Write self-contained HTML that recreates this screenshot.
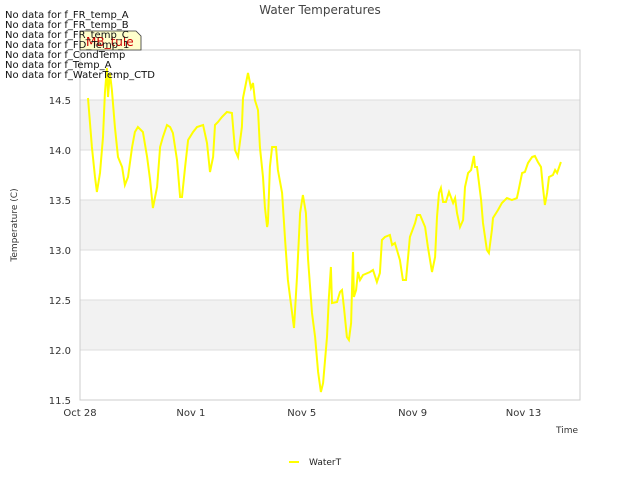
<!DOCTYPE html>
<html><head><meta charset="utf-8"><style>
body{margin:0;background:#fff;font-family:"DejaVu Sans",sans-serif}
svg text{font-family:"DejaVu Sans","Liberation Sans",sans-serif}
</style></head><body>
<svg id="c" width="640" height="480" viewBox="0 0 640 480">
<rect width="640" height="480" fill="#fff"/>
<g id="bands"></g><g id="grid"></g>
<rect x="80" y="50" width="500" height="350" fill="none" stroke="#ccc"/>
<g id="yt"></g><g id="xt"></g>
<path id="line" fill="none" stroke="#ffff00" stroke-width="2"/>
<text x="320" y="14" text-anchor="middle" font-size="12" fill="#444">Water Temperatures</text>
<text transform="translate(17,225) rotate(-90)" text-anchor="middle" font-size="9" fill="#333">Temperature (C)</text>
<text x="578" y="433" text-anchor="end" font-size="9" fill="#333">Time</text>
<g><line x1="289" y1="462" x2="299" y2="462" stroke="#ffff00" stroke-width="2"/><text x="309" y="465" font-size="9" fill="#222">WaterT</text></g>
<g><path d="M80,31 L136,31 L141,36 L141,50 L80,50 Z" fill="#ffffcc" stroke="#333" stroke-width="0.8"/><text x="86" y="46" font-size="12" fill="#cc0000">MB_tule</text></g>
<g font-size="10" fill="#111">
<text x="5" y="18">No data for f_FR_temp_A</text><text x="5" y="28">No data for f_FR_temp_B</text><text x="5" y="38">No data for f_FR_temp_C</text><text x="5" y="48">No data for f_FD_Temp_1</text><text x="5" y="58">No data for f_CondTemp</text><text x="5" y="68">No data for f_Temp_A</text><text x="5" y="78">No data for f_WaterTemp_CTD</text>
</g>
</svg>
<script>
const days=[.29,.43,.54,.61,.72,.83,.90,.97,1.01,1.08,1.15,1.26,1.37,1.52,1.62,1.73,1.88,1.98,2.09,2.27,2.42,2.53,2.63,2.78,2.89,2.99,3.14,3.25,3.35,3.50,3.61,3.68,3.79,3.90,4.08,4.22,4.44,4.58,4.69,4.80,4.87,4.98,5.12,5.30,5.48,5.59,5.70,5.84,5.88,5.99,6.06,6.17,6.24,6.31,6.42,6.49,6.60,6.67,6.75,6.78,6.85,6.93,7.07,7.14,7.29,7.40,7.50,7.65,7.72,7.83,7.94,8.04,8.15,8.23,8.37,8.48,8.59,8.69,8.77,8.91,8.98,9.05,9.09,9.27,9.38,9.45,9.52,9.63,9.70,9.78,9.85,9.88,9.96,10.03,10.10,10.21,10.46,10.57,10.71,10.82,10.89,11.00,11.18,11.26,11.36,11.54,11.65,11.76,11.90,12.09,12.16,12.27,12.45,12.55,12.70,12.81,12.88,12.95,13.02,13.10,13.20,13.31,13.46,13.53,13.60,13.71,13.82,13.89,14.00,14.11,14.21,14.25,14.32,14.47,14.54,14.68,14.75,14.86,14.90,15.08,15.22,15.40,15.58,15.76,15.80,15.95,16.05,16.16,16.31,16.41,16.52,16.63,16.70,16.77,16.85,16.92,17.06,17.14,17.21,17.35];
const temps=[14.52,14.03,13.73,13.58,13.77,14.13,14.57,14.82,14.53,14.77,14.6,14.23,13.93,13.83,13.65,13.73,14.03,14.18,14.23,14.18,13.93,13.7,13.42,13.63,14.03,14.13,14.25,14.23,14.17,13.9,13.53,13.53,13.83,14.1,14.18,14.23,14.25,14.07,13.78,13.93,14.25,14.28,14.33,14.38,14.37,14.0,13.93,14.23,14.52,14.67,14.77,14.62,14.67,14.5,14.4,14.03,13.73,13.43,13.23,13.27,13.83,14.03,14.03,13.8,13.57,13.1,12.7,12.37,12.22,12.73,13.37,13.55,13.37,12.9,12.37,12.13,11.78,11.58,11.67,12.13,12.53,12.83,12.47,12.48,12.58,12.6,12.43,12.13,12.1,12.27,12.98,12.53,12.6,12.78,12.7,12.75,12.78,12.8,12.68,12.77,13.1,13.13,13.15,13.05,13.07,12.9,12.7,12.7,13.13,13.27,13.35,13.35,13.23,13.03,12.78,12.93,13.33,13.57,13.62,13.48,13.48,13.58,13.47,13.52,13.37,13.23,13.3,13.63,13.77,13.8,13.94,13.83,13.83,13.5,13.27,13.0,12.97,13.2,13.32,13.4,13.47,13.52,13.5,13.52,13.57,13.77,13.78,13.87,13.93,13.94,13.88,13.83,13.63,13.45,13.57,13.73,13.75,13.8,13.77,13.88];
const yTicks=[11.5,12.0,12.5,13.0,13.5,14.0,14.5];
const xTickDays=[0,4,8,12,16];
const xTickLabels=["Oct 28","Nov 1","Nov 5","Nov 9","Nov 13"];
const X=d=>80+d*27.72, Y=v=>400-(v-11.5)*100;
const NS="http://www.w3.org/2000/svg";
function mk(t,a,p){const e=document.createElementNS(NS,t);for(const k in a)e.setAttribute(k,a[k]);p.appendChild(e);return e;}
const bands=document.getElementById('bands'),grid=document.getElementById('grid'),yt=document.getElementById('yt'),xt=document.getElementById('xt');
[12.0,13.0,14.0].forEach(v=>{const r=mk('rect',{x:80,y:Y(v+0.5),width:500,height:Y(v)-Y(v+0.5),fill:'#f2f2f2'},bands);

});
yTicks.forEach(v=>{const l=mk('line',{x1:80,x2:580,y1:Y(v),y2:Y(v),stroke:'#ddd'},grid);


const t=mk('text',{x:71,y:Y(v)+4,'text-anchor':'end','font-size':10,fill:'#333'},yt);t.textContent=v.toFixed(1);

});
xTickDays.forEach((d,i)=>{const t=mk('text',{x:X(d),y:416,'text-anchor':'middle','font-size':10,fill:'#333'},xt);t.textContent=xTickLabels[i];

});
document.getElementById('line').setAttribute('d',days.map((d,i)=>(i?'L':'M')+X(d).toFixed(1)+','+Y(temps[i]).toFixed(1)).join(''));
</script>
</body></html>
